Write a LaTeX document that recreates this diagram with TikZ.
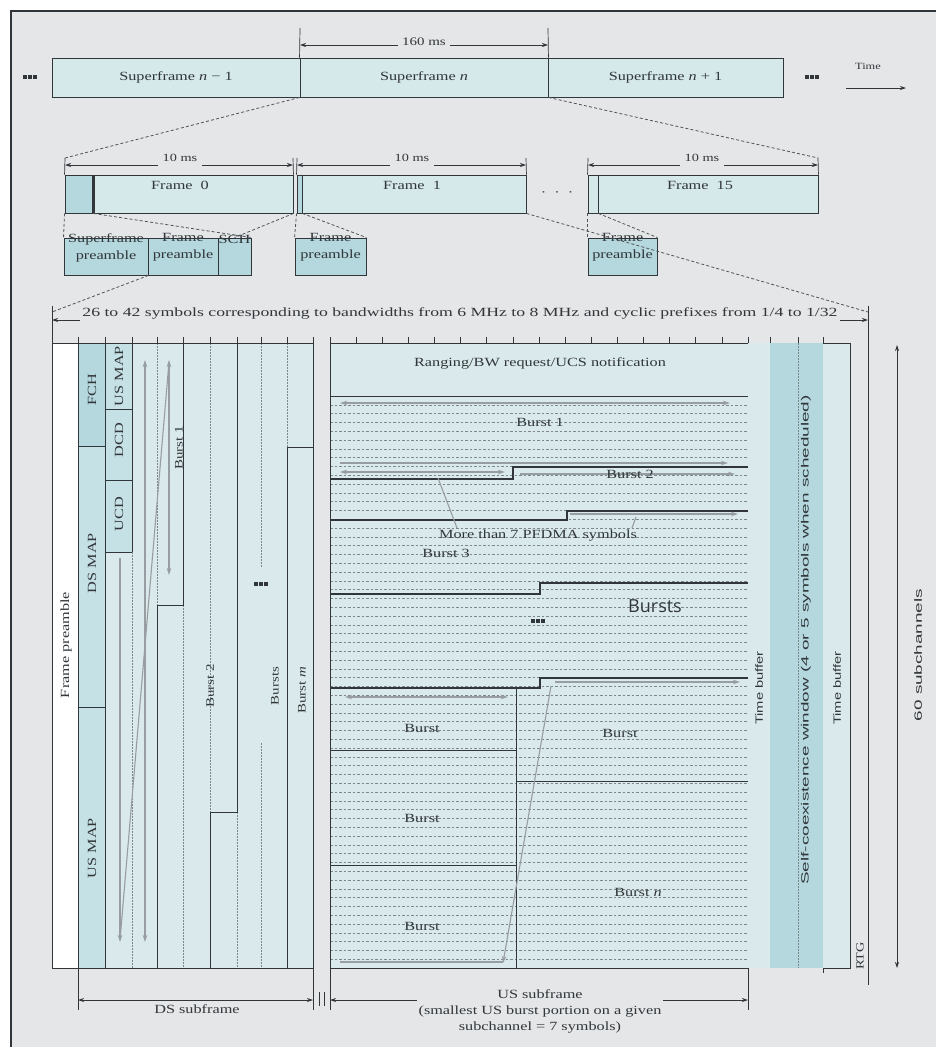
\documentclass[tikz,border=0pt]{standalone}
\usepackage{fontspec}
\usepackage{graphicx}
\setmainfont[FakeStretch=1.3]{Liberation Serif}
\newfontfamily\sansn[FakeStretch=1.4]{Liberation Sans}
\newfontfamily\sansw[FakeStretch=1.8]{Liberation Sans}
\newfontfamily\sansb{Open Sans}
\usetikzlibrary{arrows.meta}
\definecolor{bg}{HTML}{E5E6E8}
\definecolor{lt}{HTML}{D5E8EA}
\definecolor{md}{HTML}{C6E1E5}
\definecolor{dk}{HTML}{B4D8DE}
\definecolor{ds}{HTML}{DAE9EB}
\definecolor{ln}{HTML}{30363A}
\definecolor{ga}{HTML}{979DA1}
\definecolor{hl}{HTML}{7E878C}
\newcommand{\sqdots}{\rule{3.5pt}{3.5pt}\hspace{1.5pt}\rule{3.5pt}{3.5pt}\hspace{1.5pt}\rule{3.5pt}{3.5pt}}
\tikzset{
  every node/.style={font=\fontsize{12.5}{14}\selectfont, inner sep=0pt, text=ln},
  bx/.style={draw=ln, line width=0.9, fill=lt, inner sep=0pt, minimum height=39},
  sline/.style={draw=ln, line width=0.9},
  bline/.style={draw=ln, line width=1.3},
  thin/.style={draw=ln, line width=0.7},
  dsh/.style={draw=ln!85, dash pattern=on 3pt off 2.2pt, line width=0.8},
  dotl/.style={draw=hl, dash pattern=on 1.5pt off 1.5pt, line width=0.6},
  hline/.style={draw=hl, dash pattern=on 2.5pt off 2pt, line width=0.45},
  dimline/.style={draw=ln, line width=0.8, {Stealth[length=6pt,width=4pt]}-{Stealth[length=6pt,width=4pt]}},
  dimr/.style={draw=ln, line width=0.8, -{Stealth[length=6pt,width=4pt]}},
  garr/.style={draw=ga, line width=1.1, -{Stealth[length=7pt,width=4.5pt]}},
  garr2/.style={draw=ga, line width=1.1, {Stealth[length=7pt,width=4.5pt]}-{Stealth[length=7pt,width=4.5pt]}},
  gline/.style={draw=ga, line width=1.1},
  vtext/.style={rotate=90},
  dotsn/.style={text=ln},
  twoline/.style={align=center, font=\fontsize{12.5}{17}\selectfont},
  sanst/.style={font=\sansn\fontsize{10.5}{12}\selectfont},
  sanswide/.style={font=\sansw\fontsize{10.5}{12}\selectfont},
  gap/.style={fill=bg, inner sep=2pt},
  burstv/.style={rotate=90, font=\fontsize{11.5}{13}\selectfont},
}
\begin{document}
\begin{tikzpicture}[x=1pt,y=-1pt]
\useasboundingbox (0,0) rectangle (936,1047);
\fill[white] (0,0) rectangle (936,1047);
\fill[bg] (11,11) rectangle (936,1047);
\draw[ln, line width=1.3] (11,1047) -- (11,11) -- (936,11);

% ---------------- superframes
\node[bx, minimum width=248] (sfa) at (176,77.5) {Superframe \textit{n} − 1};
\node[bx, minimum width=248] (sfb) at (424,77.5) {Superframe \textit{n}};
\node[bx, minimum width=235] (sfc) at (665.5,77.5) {Superframe \textit{n} + 1};
\node[dotsn] (dl) at (30,77) {\sqdots};
\node[dotsn] (dr) at (812,77) {\sqdots};
\node[font=\fontsize{9.5}{11}\selectfont] (time) at (868,66) {Time};
\coordinate (ta) at (846,88); \coordinate (tb) at (906,88);
\draw[dimr] (ta) -- (tb);
\coordinate (m1) at (300,28); \coordinate (m2) at (548,28);
\draw[thin] (sfb.north west) -- (m1);
\draw[thin] (sfb.north east) -- (m2);
\coordinate (m1a) at (300,45); \coordinate (m2a) at (548,45);
\draw[dimline] (m1a) -- (m2a);
\node[gap, inner xsep=4pt, font=\fontsize{11.5}{13}\selectfont] (t160) at (424,42) {160 ms};

% ---------------- frames
\node[bx, minimum width=228, minimum height=38] (f0) at (179,194) {};
\node[bx, minimum width=229, minimum height=38] (f1) at (411.5,194) {};
\node[bx, minimum width=230, minimum height=38] (f15) at (703,194) {};
\node[draw=ln, line width=0.9, fill=dk, minimum width=28, minimum height=38, anchor=west] (f0p) at (f0.west) {};
\node[draw=ln, line width=0.9, fill=dk, minimum width=5, minimum height=38, anchor=west] (f1p) at (f1.west) {};
\node[draw=ln, line width=0.9, fill=lt, minimum width=10, minimum height=38, anchor=west] (f15p) at (f15.west) {};
\draw[ln, line width=2.2] (f0p.north east) -- (f0p.south east);
\draw[ln, line width=1.8] (f1p.north east) -- (f1p.south east);
\node (f0t) at (180,185) {Frame\ \ 0};
\node (f1t) at (412,185) {Frame\ \ 1};
\node (f15t) at (700,185) {Frame\ \ 15};
\node (fdots) at (557,194) {·\ \ ·\ \ ·};

% 10 ms dimensions
\coordinate (a0) at (65,158); \coordinate (a1) at (293,158);
\coordinate (a2) at (297,158); \coordinate (a3) at (526,158);
\coordinate (a4) at (588,158); \coordinate (a5) at (818,158);
\draw[thin] (f0.north west) -- (a0);
\draw[thin] (f0.north east) -- (a1);
\draw[thin] (f1.north west) -- (a2);
\draw[thin] (f1.north east) -- (a3);
\draw[thin] (f15.north west) -- (a4);
\draw[thin] (f15.north east) -- (a5);
\draw[dimline] (65,165) -- (293,165);
\draw[dimline] (297,165) -- (526,165);
\draw[dimline] (588,165) -- (818,165);
\node[gap, inner xsep=5pt, minimum height=18, font=\fontsize{11}{12}\selectfont] (d0) at (180,158) {10 ms};
\node[gap, inner xsep=5pt, minimum height=18, font=\fontsize{11}{12}\selectfont] (d1) at (412,158) {10 ms};
\node[gap, inner xsep=5pt, minimum height=18, font=\fontsize{11}{12}\selectfont] (d2) at (702,158) {10 ms};

% zoom lines superframe -> frames
\draw[dsh] (sfb.south west) -- (a0);
\draw[dsh] (sfb.south east) -- (a5);

% ---------------- preamble boxes
\node[bx, fill=dk, minimum width=84, minimum height=37] (pa) at (106,256.5) {};
\node[bx, fill=dk, minimum width=70, minimum height=37] (pb) at (183,256.5) {};
\node[bx, fill=dk, minimum width=33, minimum height=37] (pc) at (234.5,256.5) {};
\node[bx, fill=dk, minimum width=71, minimum height=37] (pd) at (330.5,256.5) {};
\node[bx, fill=dk, minimum width=69, minimum height=37] (pe) at (622.5,256.5) {};
\node[twoline, anchor=north] (pat) at (106,233) {Superframe\\preamble};
\node[twoline, anchor=north] (pbt) at (183,233) {Frame\\preamble};
\node[anchor=north] (pct) at (234.5,235) {SCH};
\node[twoline, anchor=north] (pdt) at (330.5,233) {Frame\\preamble};
\node[twoline, anchor=north] (pet) at (622.5,233) {Frame\\preamble};

\draw[dsh] (f0.south west) -- (pa.north west);
\draw[dsh] (f0p.south east) -- (pc.north east);
\draw[dsh] (f0.south east) -- (pc.north);
\draw[dsh] (f1.south west) -- (pd.north west);
\draw[dsh] (f1p.south east) -- (pd.north east);
\draw[dsh] (f15.south west) -- (pe.north west);
\draw[dsh] (f15p.south east) -- (pe.north east);

% ---------------- main block frame
\coordinate (L0) at (52,306);
\coordinate (R0) at (868,306);
\coordinate (Ld) at (52,312);
\coordinate (Rd) at (868,312);
\draw[dsh] (pa.south east) -- (Ld);
\draw[dsh] (f1.south east) -- (Rd);
\draw[dimline] (52,320) -- (868,320);
\node[gap] (symtext) at (460,313) {\scalebox{1.09}[1]{26 to 42 symbols corresponding to bandwidths from 6 MHz to 8 MHz and cyclic prefixes from 1/4 to 1/32}};

% ---------------- DS subframe
\fill[white] (52,343) rectangle (78,968);
\fill[ds] (78,343) rectangle (313,968);
\fill[md] (78,446) rectangle (105,968);
\fill[dk] (78,343) rectangle (105,446);
\fill[md] (105,343) rectangle (132,552);

\draw[dotl] (132,552) -- (132,968);
\draw[dotl] (157,343) -- (157,605);
\draw[dotl] (183,605) -- (183,968);
\draw[dotl] (210,343) -- (210,812);
\draw[dotl] (237,812) -- (237,968);
\draw[dotl] (261,343) -- (261,567);
\draw[dotl] (261,743) -- (261,968);
\draw[dotl] (287,343) -- (287,447);

\draw[sline] (52,343) rectangle (313,968);
\draw[sline] (L0) -- (52,343);
\draw[sline] (78,343) -- (78,968);
\draw[sline] (105,343) -- (105,968);
\draw[sline] (78,446) -- (105,446);
\draw[sline] (78,707) -- (105,707);
\draw[sline] (132,343) -- (132,552);
\draw[sline] (105,409) -- (132,409);
\draw[sline] (105,480) -- (132,480);
\draw[sline] (105,552) -- (132,552);
\draw[sline] (183,343) -- (183,605) -- (157,605) -- (157,968);
\draw[sline] (237,343) -- (237,812) -- (210,812) -- (210,968);
\draw[sline] (313,447) -- (287,447) -- (287,968);
\foreach \x in {52,78,105,132,157,183,210,237,261,287,313} \draw[thin] (\x,343) -- (\x,337);

\draw[garr] (120,558) -- (120,942);
\draw[gline] (169,362) -- (120,940);
\draw[garr2] (145,360) -- (145,942);
\draw[garr2] (169,360) -- (169,575);

\node[vtext] (lfp) at (66,645) {Frame preamble};
\node[vtext] (lfch) at (92,390) {FCH};
\node[vtext] (ldsm) at (92,563) {DS MAP};
\node[vtext] (lusm) at (92,848) {US MAP};
\node[vtext] (lusm2) at (119,376) {US MAP};
\node[vtext] (ldcd) at (119,440) {DCD};
\node[vtext] (lucd) at (119,514) {UCD};
\node[burstv] (lb1) at (179,448) {Burst 1};
\node[burstv] (lb2) at (210,686) {Burst 2};
\node[burstv] (lbs) at (275,686) {Bursts};
\node[burstv] (lbm) at (302,690) {Burst \textit{m}};
\node[dotsn] (dsdots) at (261,584) {\sqdots};

% ---------------- US subframe
\fill[ds] (330,343) rectangle (748,968);
\foreach \k in {1,...,64} \draw[hline] (330,{396+\k*8.8}) -- (748,{396+\k*8.8});
\draw[sline] (330,343) rectangle (748,968);
\draw[sline] (330,396) -- (748,396);
\draw[bline] (330,479) -- (513,479) -- (513,467) -- (748,467);
\draw[bline] (330,520) -- (567,520) -- (567,511) -- (748,511);
\draw[bline] (330,594) -- (540,594) -- (540,583) -- (748,583);
\draw[bline] (330,688) -- (540,688) -- (540,678) -- (748,678);
\draw[sline] (516,688) -- (516,968);
\draw[sline] (330,750) -- (516,750);
\draw[sline] (330,865) -- (516,865);
\draw[sline] (516,781) -- (748,781);
\foreach \k in {0,...,16} \draw[thin] ({330+\k*26.125},343) -- ({330+\k*26.125},337);

\draw[garr2] (340,403) -- (730,403);
\draw[garr] (340,463) -- (728,463);
\draw[garr2] (340,472) -- (505,472);
\draw[garr] (520,474) -- (735,474);
\draw[garr] (570,514) -- (738,514);
\draw[gline] (457,528) -- (438,478);
\draw[gline] (632,528) -- (636,517);
\draw[garr2] (345,697) -- (508,697);
\draw[garr] (555,682) -- (740,682);
\draw[gline] (340,962) -- (503,962);
\draw[garr] (551,686) -- (503,963);

\node (lrng) at (540,363) {Ranging/BW request/UCS notification};
\node (lub1) at (540,422) {Burst 1};
\node (lub2) at (630,474) {Burst 2};
\node (lmore) at (538,536) {More than 7 PFDMA symbols};
\node (lub3) at (446,553) {Burst 3};
\node[dotsn] (usdots) at (538,621) {\sqdots};
\node[font=\sansb\fontsize{18}{20}\selectfont] (lbursts) at (655,606) {Bursts};
\node (lba) at (422,728) {Burst};
\node (lbb) at (422,818) {Burst};
\node (lbc) at (422,926) {Burst};
\node (lbd) at (620,733) {Burst};
\node (lbn) at (638,892) {Burst \textit{n}};

% ---------------- right strip
\fill[ds] (748,343) rectangle (770,968);
\fill[dk] (770,343) rectangle (823,968);
\fill[ds] (823,343) rectangle (850,968);
\draw[dotl] (798,343) -- (798,968);
\draw[thin] (770,343) -- (770,337);
\draw[thin] (798,343) -- (798,337);
\draw[sline] (823,337) -- (823,343) -- (850,343) -- (850,968) -- (823,968) -- (823,973);
\draw[sline] (R0) -- (868,985);
\node[vtext, sanst] (ltb1) at (759,688) {Time buffer};
\node[vtext, sanswide] (lscw) at (806,640) {Self-coexistence window (4 or 5 symbols when scheduled)};
\node[vtext, sanst] (ltb2) at (837,688) {Time buffer};
\node[vtext, font=\fontsize{11}{12}\selectfont] (lrtg) at (860,956) {RTG};
\coordinate (s60a) at (897,345); \coordinate (s60b) at (897,968);
\draw[dimline] (s60a) -- (s60b);
\node[vtext, sanswide] (l60) at (918,655) {60 subchannels};

% ---------------- bottom dimensions
\draw[thin] (78,968) -- (78,1010);
\draw[thin] (313,968) -- (313,1010);
\draw[thin] (330,968) -- (330,1010);
\draw[thin] (748,968) -- (748,1010);
\draw[dimline] (78,1000) -- (313,1000);
\draw[dimline] (330,1000) -- (748,1000);
\draw[thin] (319,992) -- (319,1006);
\draw[thin] (324,992) -- (324,1006);
\node[gap] (lds) at (197,1009) {DS subframe};
\node[gap, align=center, font=\fontsize{12.5}{16}\selectfont, anchor=north] (lus) at (540,987) {US subframe\\(smallest US burst portion on a given\\subchannel = 7 symbols)};
\end{tikzpicture}
\end{document}
